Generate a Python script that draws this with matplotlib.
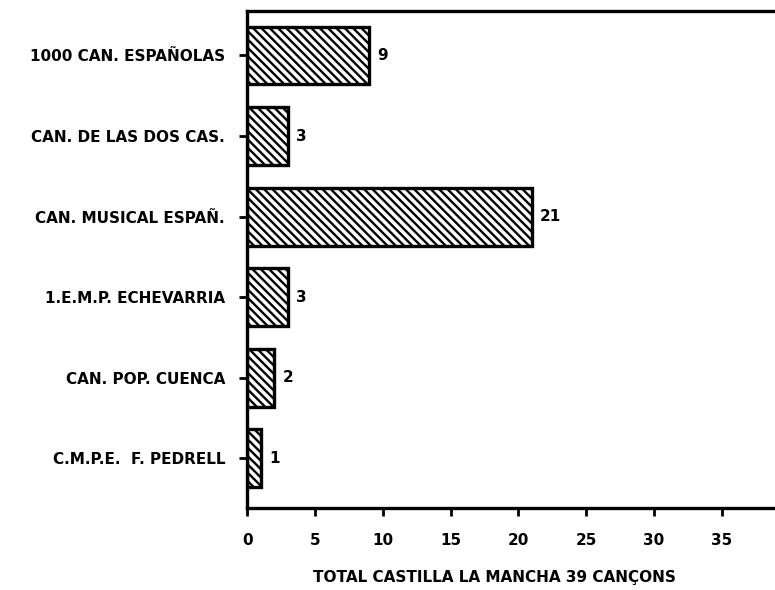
import numpy as np
import matplotlib
matplotlib.use('Agg')
import matplotlib.pyplot as plt
from matplotlib import rcParams as parameters

parameters['hatch.linewidth'] = 1.7
parameters['font.family'] = ['DejaVu Sans']

fuentes = ['1000 CAN. ESPAÑOLAS', 'CAN. DE LAS DOS CAS.', 'CAN. MUSICAL ESPAÑ.',
           '1.E.M.P. ECHEVARRIA', 'CAN. POP. CUENCA', 'C.M.P.E.  F. PEDRELL']
canciones = [9, 3, 21, 3, 2, 1]
ticks_x = [0, 5, 10, 15, 20, 25, 30, 35]
titulo_x = 'TOTAL CASTILLA LA MANCHA 39 CANÇONS'

fs = 11

fig = plt.figure(figsize=(7.75, 5.9), dpi=100)
ax = fig.add_axes([0.319, 0.139, 0.70, 0.842])

y = np.arange(len(fuentes))
bars = ax.barh(y, canciones, height=0.72, color='white', edgecolor='black',
               linewidth=2.4, hatch='\\\\\\\\')

for yi, v in zip(y, canciones):
    ax.text(v + 0.6, yi, str(v), va='center', ha='left',
            fontsize=fs, fontweight='bold')

ax.set_yticks(y)
ax.set_yticklabels(fuentes, fontsize=fs, fontweight='bold')
ax.set_xticks(ticks_x)
ax.set_xticklabels([str(t) for t in ticks_x], fontsize=fs, fontweight='bold')
ax.set_xlim(0, 40)
ax.set_ylim(5.62, -0.55)
ax.set_xlabel(titulo_x, fontsize=fs, fontweight='bold')
ax.xaxis.set_label_coords(0.455, -0.125)

ax.tick_params(axis='y', direction='out', length=6, width=2, pad=10)
ax.tick_params(axis='x', direction='out', length=6, width=2, pad=12)
for s in ax.spines.values():
    s.set_linewidth(2.4)

plt.savefig('out.png', dpi=100)
plt.close()
